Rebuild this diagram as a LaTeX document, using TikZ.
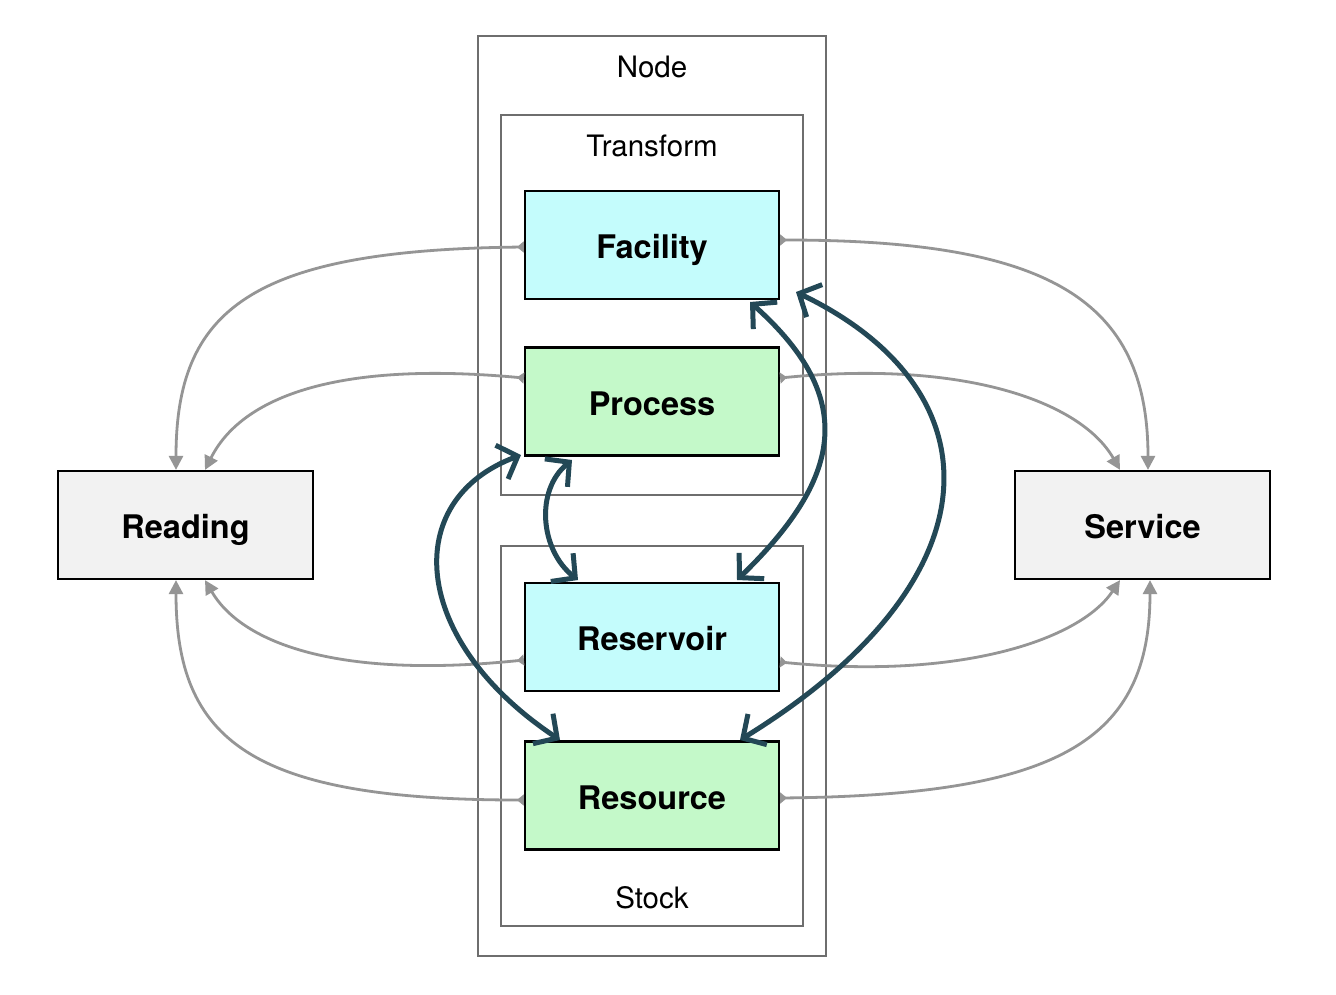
\documentclass[tikz,border=0pt]{standalone}
\usepackage{fontspec}
\setmainfont{TeX Gyre Heros}
\usetikzlibrary{arrows.meta}
\definecolor{cy}{HTML}{C4FCFC}
\definecolor{gr}{HTML}{C4F9C9}
\definecolor{gy}{HTML}{F2F2F2}
\definecolor{dk}{HTML}{234856}
\definecolor{ln}{HTML}{959595}
\definecolor{frm}{HTML}{6E6E6E}
\begin{document}
\begin{tikzpicture}[x=1pt,y=-1pt,
  box/.style={draw=black,line width=2.2pt,minimum width=254pt,minimum height=108pt,inner sep=0pt,text height=27pt,text depth=0pt,font=\fontsize{32.5}{33}\selectfont\bfseries},
  container/.style={draw=frm,line width=2pt,inner sep=0pt},
  lbl/.style={inner sep=0pt,text height=21pt,text depth=0pt,font=\fontsize{29.5}{30}\selectfont},
  gline/.style={draw=ln,line width=2.8pt,{Triangle[reversed,length=7pt,width=11pt]}-{Triangle[length=14pt,width=14pt]}},
  dline/.style={draw=dk,line width=5pt,line cap=round,{Straight Barb[length=17pt,width=36pt,line width=5pt]}-{Straight Barb[length=17pt,width=36pt,line width=5pt]}}
]
\useasboundingbox (0,0) rectangle (1336,994);
\fill[white] (0,0) rectangle (1336,994);
% containers
\node[container,minimum width=348pt,minimum height=920pt] (nodebox) at (652,496) {};
\node[container,minimum width=302pt,minimum height=380pt] (trans) at (652,305) {};
\node[container,minimum width=302pt,minimum height=380pt] (stock) at (652,736) {};
\node[lbl] (nodelbl) at (652,67) {Node};
\node[lbl] (translbl) at (652,146) {Transform};
\node[lbl] (stocklbl) at (652,898) {Stock};
% boxes
\node[box,fill=cy] (fac) at (652,245) {Facility};
\node[box,fill=gr] (proc) at (652,401.5) {Process};
\node[box,fill=cy] (res) at (652,637) {Reservoir};
\node[box,fill=gr] (rsc) at (652,795.5) {Resource};
\node[box,fill=gy,minimum width=255pt] (read) at (185.5,525) {Reading};
\node[box,fill=gy,minimum width=255pt] (serv) at (1142.5,525) {Service};
% gray connectors left
\draw[gline] ([yshift=-2pt]fac.west) .. controls (250,250) and (176,310) .. ([xshift=-9.5pt]read.north);
\draw[gline] ([yshift=23.5pt]proc.west) .. controls (330,360) and (240,400) .. ([xshift=19.5pt]read.north);
\draw[gline] ([yshift=-23pt]res.west) .. controls (330,680) and (240,640) .. ([xshift=19.5pt]read.south);
\draw[gline] ([yshift=-4.5pt]rsc.west) .. controls (250,800) and (176,740) .. ([xshift=-9.5pt]read.south);
% gray connectors right
\draw[gline] ([yshift=5pt]fac.east) .. controls (1050,240) and (1148,300) .. ([xshift=5.5pt]serv.north);
\draw[gline] ([yshift=23.5pt]proc.east) .. controls (960,360) and (1080,400) .. ([xshift=-22.5pt]serv.north);
\draw[gline] ([yshift=-25pt]res.east) .. controls (960,680) and (1080,640) .. ([xshift=-22.5pt]serv.south);
\draw[gline] ([yshift=-2.5pt]rsc.east) .. controls (1060,795) and (1150,740) .. ([xshift=7.5pt]serv.south);
% dark arrows
\coordinate (a1) at (750,302);
\coordinate (a2) at (737,580);
\coordinate (b1) at (796,292);
\coordinate (b2) at (740,740);
\coordinate (c1) at (521,455);
\coordinate (c2) at (560,740);
\coordinate (d1) at (572,460);
\coordinate (d2) at (578,580);
\draw[dline] (a1) .. controls (860,400) and (840,480) .. (a2);
\draw[dline] (b1) .. controls (1000,390) and (1000,580) .. (b2);
\draw[dline] (c1) .. controls (400,500) and (410,640) .. (c2);
\draw[dline] (d1) .. controls (535,490) and (540,550) .. (d2);
\end{tikzpicture}
\end{document}
